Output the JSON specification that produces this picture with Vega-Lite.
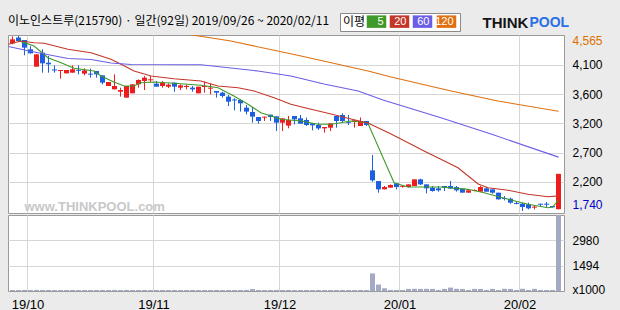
{
  "$schema": "https://vega.github.io/schema/vega-lite/v6.json",
  "background": "#ebebeb",
  "padding": {"left": 7, "top": 12, "right": 20, "bottom": 2},
  "title": {"text": "이노인스트루(215790) · 일간(92일) 2019/09/26 ~ 2020/02/11", "anchor": "start", "frame": "group", "font": "Noto Sans CJK KR", "fontSize": 12, "fontWeight": "normal", "color": "#000000", "offset": -16},
  "spacing": 0,
  "resolve": {"legend": {"color": "independent"}},
  "config": {
    "view": {"stroke": "#9a9a9a", "strokeWidth": 1, "fill": "#ffffff"},
    "axis": {"gridColor": "#d6d6d6", "gridWidth": 1, "labelFont": "Liberation Sans", "labelFontSize": 12, "labelColor": "#000000", "ticks": false, "domain": false}
  },
  "datasets": {
    "candles": [
      {"i":0,"o":4446,"h":4560,"l":4430,"c":4511,"v":60},
      {"i":1,"o":4540,"h":4565,"l":4468,"c":4484,"v":58},
      {"i":2,"o":4500,"h":4500,"l":4253,"c":4377,"v":65},
      {"i":3,"o":4350,"h":4400,"l":4285,"c":4285,"v":60},
      {"i":4,"o":4070,"h":4269,"l":4070,"c":4269,"v":66},
      {"i":5,"o":4296,"h":4350,"l":3973,"c":4124,"v":62},
      {"i":6,"o":4134,"h":4242,"l":3973,"c":4108,"v":60},
      {"i":7,"o":4025,"h":4091,"l":3973,"c":4008,"v":58},
      {"i":8,"o":4000,"h":4016,"l":3876,"c":4016,"v":60},
      {"i":9,"o":3962,"h":4016,"l":3962,"c":4016,"v":58},
      {"i":10,"o":3973,"h":4091,"l":3973,"c":4027,"v":60},
      {"i":11,"o":4020,"h":4091,"l":3946,"c":4003,"v":58},
      {"i":12,"o":3957,"h":4043,"l":3930,"c":4010,"v":60},
      {"i":13,"o":3957,"h":4038,"l":3892,"c":3941,"v":57},
      {"i":14,"o":4000,"h":4000,"l":3892,"c":3946,"v":58},
      {"i":15,"o":3930,"h":3930,"l":3785,"c":3812,"v":62},
      {"i":16,"o":3758,"h":3822,"l":3758,"c":3822,"v":60},
      {"i":17,"o":3704,"h":3946,"l":3704,"c":3758,"v":64},
      {"i":18,"o":3666,"h":3731,"l":3586,"c":3693,"v":60},
      {"i":19,"o":3570,"h":3758,"l":3570,"c":3758,"v":63},
      {"i":20,"o":3640,"h":3785,"l":3640,"c":3785,"v":60},
      {"i":21,"o":3785,"h":3866,"l":3731,"c":3855,"v":58},
      {"i":22,"o":3839,"h":3920,"l":3693,"c":3892,"v":60},
      {"i":23,"o":3850,"h":3920,"l":3812,"c":3866,"v":57},
      {"i":24,"o":3796,"h":3839,"l":3747,"c":3747,"v":58},
      {"i":25,"o":3758,"h":3839,"l":3731,"c":3812,"v":60},
      {"i":26,"o":3747,"h":3801,"l":3726,"c":3779,"v":57},
      {"i":27,"o":3812,"h":3812,"l":3666,"c":3747,"v":60},
      {"i":28,"o":3731,"h":3785,"l":3693,"c":3768,"v":58},
      {"i":29,"o":3742,"h":3785,"l":3704,"c":3758,"v":57},
      {"i":30,"o":3731,"h":3758,"l":3666,"c":3704,"v":58},
      {"i":31,"o":3640,"h":3747,"l":3640,"c":3747,"v":60},
      {"i":32,"o":3742,"h":3828,"l":3650,"c":3758,"v":58},
      {"i":33,"o":3715,"h":3801,"l":3623,"c":3731,"v":57},
      {"i":34,"o":3677,"h":3677,"l":3570,"c":3650,"v":58},
      {"i":35,"o":3650,"h":3666,"l":3570,"c":3596,"v":60},
      {"i":36,"o":3586,"h":3613,"l":3435,"c":3505,"v":62},
      {"i":37,"o":3540,"h":3559,"l":3365,"c":3524,"v":60},
      {"i":38,"o":3532,"h":3543,"l":3344,"c":3478,"v":58},
      {"i":39,"o":3408,"h":3451,"l":3300,"c":3344,"v":62},
      {"i":40,"o":3338,"h":3419,"l":3166,"c":3263,"v":115},
      {"i":41,"o":3257,"h":3257,"l":3150,"c":3193,"v":60},
      {"i":42,"o":3247,"h":3263,"l":3193,"c":3263,"v":57},
      {"i":43,"o":3295,"h":3295,"l":3193,"c":3257,"v":58},
      {"i":44,"o":3268,"h":3268,"l":3031,"c":3166,"v":62},
      {"i":45,"o":3166,"h":3236,"l":3031,"c":3236,"v":60},
      {"i":46,"o":3118,"h":3274,"l":3075,"c":3209,"v":58},
      {"i":47,"o":3274,"h":3274,"l":3139,"c":3220,"v":57},
      {"i":48,"o":3236,"h":3290,"l":3150,"c":3150,"v":58},
      {"i":49,"o":3209,"h":3247,"l":3112,"c":3128,"v":60},
      {"i":50,"o":3155,"h":3155,"l":3042,"c":3123,"v":57},
      {"i":51,"o":3128,"h":3166,"l":3048,"c":3074,"v":58},
      {"i":52,"o":3074,"h":3096,"l":3005,"c":3096,"v":60},
      {"i":53,"o":3085,"h":3155,"l":3031,"c":3155,"v":58},
      {"i":54,"o":3274,"h":3274,"l":3085,"c":3193,"v":60},
      {"i":55,"o":3290,"h":3317,"l":3166,"c":3193,"v":62},
      {"i":56,"o":3180,"h":3290,"l":3128,"c":3164,"v":58},
      {"i":57,"o":3177,"h":3204,"l":3085,"c":3204,"v":57},
      {"i":58,"o":3112,"h":3250,"l":3112,"c":3193,"v":60},
      {"i":59,"o":3193,"h":3193,"l":3112,"c":3128,"v":58},
      {"i":60,"o":2396,"h":2644,"l":2213,"c":2235,"v":1035},
      {"i":61,"o":2224,"h":2224,"l":2036,"c":2090,"v":380},
      {"i":62,"o":2090,"h":2144,"l":2090,"c":2127,"v":160},
      {"i":63,"o":2117,"h":2170,"l":2117,"c":2160,"v":62},
      {"i":64,"o":2187,"h":2187,"l":2090,"c":2127,"v":60},
      {"i":65,"o":2130,"h":2154,"l":2117,"c":2146,"v":58},
      {"i":66,"o":2127,"h":2170,"l":2117,"c":2170,"v":125},
      {"i":67,"o":2144,"h":2251,"l":2144,"c":2251,"v":130},
      {"i":68,"o":2251,"h":2262,"l":2160,"c":2170,"v":125},
      {"i":69,"o":2170,"h":2170,"l":2025,"c":2106,"v":128},
      {"i":70,"o":2117,"h":2144,"l":2052,"c":2063,"v":125},
      {"i":71,"o":2106,"h":2144,"l":2052,"c":2074,"v":60},
      {"i":72,"o":2144,"h":2144,"l":2063,"c":2117,"v":125},
      {"i":73,"o":2144,"h":2224,"l":2101,"c":2101,"v":200},
      {"i":74,"o":2127,"h":2144,"l":2052,"c":2074,"v":130},
      {"i":75,"o":2101,"h":2106,"l":2036,"c":2036,"v":120},
      {"i":76,"o":2036,"h":2074,"l":2036,"c":2074,"v":60},
      {"i":77,"o":2063,"h":2090,"l":2060,"c":2080,"v":125},
      {"i":78,"o":2052,"h":2144,"l":2052,"c":2127,"v":120},
      {"i":79,"o":2106,"h":2127,"l":2052,"c":2052,"v":60},
      {"i":80,"o":2090,"h":2090,"l":2020,"c":2036,"v":125},
      {"i":81,"o":2036,"h":2036,"l":1928,"c":1928,"v":60},
      {"i":82,"o":1950,"h":1982,"l":1912,"c":1934,"v":130},
      {"i":83,"o":1939,"h":1955,"l":1858,"c":1874,"v":120},
      {"i":84,"o":1870,"h":1901,"l":1848,"c":1854,"v":60},
      {"i":85,"o":1858,"h":1874,"l":1740,"c":1805,"v":130},
      {"i":86,"o":1848,"h":1874,"l":1767,"c":1783,"v":60},
      {"i":87,"o":1795,"h":1821,"l":1767,"c":1811,"v":125},
      {"i":88,"o":1858,"h":1858,"l":1805,"c":1842,"v":60},
      {"i":89,"o":1858,"h":1885,"l":1805,"c":1842,"v":60},
      {"i":90,"o":1821,"h":1821,"l":1790,"c":1800,"v":60},
      {"i":91,"o":1770,"h":2340,"l":1765,"c":2340,"v":4470}
    ],
    "ma": [
      {"ma":"5","i":1,"p":4490},{"ma":"5","i":3.6,"p":4404},{"ma":"5","i":5.9,"p":4215},{"ma":"5","i":8.1,"p":4134},
      {"ma":"5","i":10.25,"p":4044},{"ma":"5","i":13.6,"p":4000},{"ma":"5","i":14.75,"p":3919},{"ma":"5","i":16.9,"p":3822},
      {"ma":"5","i":18.6,"p":3758},{"ma":"5","i":20.25,"p":3758},{"ma":"5","i":21.4,"p":3811},{"ma":"5","i":23.6,"p":3822},
      {"ma":"5","i":26.9,"p":3801},{"ma":"5","i":31.4,"p":3769},{"ma":"5","i":34.25,"p":3730},{"ma":"5","i":36.9,"p":3596},
      {"ma":"5","i":39.25,"p":3462},{"ma":"5","i":41.4,"p":3327},{"ma":"5","i":43.1,"p":3274},{"ma":"5","i":44.75,"p":3220},
      {"ma":"5","i":48.1,"p":3193},{"ma":"5","i":50.9,"p":3140},{"ma":"5","i":53.1,"p":3140},{"ma":"5","i":54.75,"p":3165},
      {"ma":"5","i":56.4,"p":3193},{"ma":"5","i":59.2,"p":3165},{"ma":"5","i":63.6,"p":2197},{"ma":"5","i":65.9,"p":2127},
      {"ma":"5","i":71.4,"p":2127},{"ma":"5","i":75.9,"p":2090},{"ma":"5","i":78.6,"p":2035},{"ma":"5","i":82.6,"p":1929},
      {"ma":"5","i":85.9,"p":1848},{"ma":"5","i":89.25,"p":1793},{"ma":"5","i":90,"p":1805},{"ma":"5","i":91,"p":1915},
      {"ma":"20","i":-0.7,"p":4431},{"ma":"20","i":1.4,"p":4484},{"ma":"20","i":3.6,"p":4457},{"ma":"20","i":5.25,"p":4447},
      {"ma":"20","i":9.25,"p":4350},{"ma":"20","i":13.1,"p":4295},{"ma":"20","i":16.4,"p":4189},{"ma":"20","i":18.1,"p":4108},
      {"ma":"20","i":20.25,"p":4000},{"ma":"20","i":23.1,"p":3919},{"ma":"20","i":26.9,"p":3876},{"ma":"20","i":31.4,"p":3839},
      {"ma":"20","i":34.25,"p":3758},{"ma":"20","i":37.6,"p":3730},{"ma":"20","i":40.25,"p":3677},{"ma":"20","i":43.6,"p":3569},
      {"ma":"20","i":46.4,"p":3462},{"ma":"20","i":49.75,"p":3382},{"ma":"20","i":53.1,"p":3306},{"ma":"20","i":56.4,"p":3225},
      {"ma":"20","i":59.25,"p":3161},{"ma":"20","i":63.1,"p":2983},{"ma":"20","i":68.6,"p":2709},{"ma":"20","i":74.25,"p":2439},
      {"ma":"20","i":77.6,"p":2176},{"ma":"20","i":79.25,"p":2116},{"ma":"20","i":82.6,"p":2074},{"ma":"20","i":85.9,"p":2010},
      {"ma":"20","i":89.25,"p":1971},{"ma":"20","i":91,"p":1985},
      {"ma":"60","i":-0.7,"p":4395},{"ma":"60","i":3.6,"p":4307},{"ma":"60","i":9.25,"p":4202},{"ma":"60","i":13.1,"p":4186},
      {"ma":"60","i":16.4,"p":4129},{"ma":"60","i":19.75,"p":4105},{"ma":"60","i":31.4,"p":4100},{"ma":"60","i":40.9,"p":4000},
      {"ma":"60","i":46.4,"p":3919},{"ma":"60","i":51.9,"p":3790},{"ma":"60","i":57.6,"p":3677},{"ma":"60","i":61.75,"p":3532},
      {"ma":"60","i":71.4,"p":3246},{"ma":"60","i":79.75,"p":2983},{"ma":"60","i":91,"p":2610},
      {"ma":"120","i":27,"p":4640},{"ma":"120","i":29.4,"p":4589},{"ma":"120","i":36.4,"p":4484},{"ma":"120","i":48.1,"p":4242},
      {"ma":"120","i":59.25,"p":4000},{"ma":"120","i":63.1,"p":3903},{"ma":"120","i":73.1,"p":3677},{"ma":"120","i":80.9,"p":3516},
      {"ma":"120","i":91,"p":3350}
    ]
  },
  "vconcat": [
    {
      "width": 556,
      "height": 178,
      "layer": [
        {
          "data": {"name": "candles"},
          "mark": {"type": "rule", "strokeWidth": 1},
          "encoding": {
            "x": {"field": "i", "type": "quantitative", "scale": {"domain": [-0.75, 91.9167], "nice": false, "zero": false, "padding": 0},
              "axis": {"orient": "bottom", "values": [2.5, 23.5, 44.5, 64.5, 84.5], "labels": false, "ticks": false, "domain": false, "grid": true,
                "title": "www.THINKPOOL.com", "titleX": 16, "titleY": -7, "titleAlign": "left", "titleBaseline": "middle", "titleColor": "#c8c8c8", "titleFont": "Liberation Sans", "titleFontSize": 13, "titleFontWeight": "bold"}},
            "y": {"field": "l", "type": "quantitative", "scale": {"domain": [1708, 4581], "nice": false, "zero": false},
              "axis": {"orient": "right", "values": [1740, 2211, 2683, 3154, 3626, 4097, 4565],
                "labelExpr": "datum.value == 4565 ? '4,565' : datum.value == 4097 ? '4,100' : datum.value == 3626 ? '3,600' : datum.value == 3154 ? '3,200' : datum.value == 2683 ? '2,700' : datum.value == 2211 ? '2,200' : '1,740'",
                "grid": true, "gridOpacity": {"condition": {"test": "datum.value == 4565 || datum.value == 1740", "value": 0}, "value": 1},
                "ticks": false, "domain": false, "title": null, "labelPadding": 8, "labelAlign": "left", "labelFlush": 3, "labelOverlap": false, "labelBound": false,
                "labelColor": {"condition": [{"test": "datum.value == 4565", "value": "#e07000"}, {"test": "datum.value == 1740", "value": "#0000c8"}], "value": "#000000"}}},
            "y2": {"field": "h"},
            "color": {"condition": {"test": "datum.c >= datum.o", "value": "#ee1d1d"}, "value": "#1d5fe2"}
          }
        },
        {
          "data": {"name": "candles"},
          "mark": {"type": "bar", "width": 5},
          "encoding": {
            "x": {"field": "i", "type": "quantitative", "scale": {"domain": [-0.75, 91.9167], "nice": false, "zero": false, "padding": 0},
              "axis": {"orient": "top", "labels": false, "ticks": false, "domain": false, "grid": false,
                "title": "THINK", "titleX": 474, "titleY": -13, "titleAlign": "left", "titleBaseline": "middle", "titleFont": "Liberation Sans", "titleFontSize": 15, "titleFontWeight": "bold", "titleColor": "#151515"}},
            "y": {"field": "o", "type": "quantitative",
              "axis": {"orient": "left", "labels": false, "ticks": false, "domain": false, "grid": false,
                "title": "POOL", "titleAngle": 0, "titleX": 521, "titleY": -13, "titleAlign": "left", "titleBaseline": "middle", "titleFont": "Liberation Sans", "titleFontSize": 14, "titleFontWeight": "bold", "titleColor": "#2a6fe8"}},
            "y2": {"field": "c"},
            "color": {"condition": {"test": "datum.c >= datum.o", "value": "#ee1d1d"}, "value": "#1d5fe2"}
          }
        },
        {
          "data": {"name": "ma"},
          "mark": {"type": "line", "strokeWidth": 1.1, "clip": true},
          "encoding": {
            "x": {"field": "i", "type": "quantitative", "axis": null},
            "y": {"field": "p", "type": "quantitative", "axis": null},
            "color": {"field": "ma", "type": "nominal",
              "scale": {"domain": ["5", "20", "60", "120"], "range": ["#3f9a2a", "#c4362a", "#6a5ee6", "#e07010"]},
              "legend": {"orient": "none", "legendX": 332, "legendY": -22, "direction": "horizontal",
                "title": "이평", "titleOrient": "left", "titleFont": "Noto Sans CJK KR", "titleFontSize": 12, "titleFontWeight": "normal", "titleColor": "#000000", "titlePadding": 5,
                "symbolType": "M-1.95,-1.25H1.95V1.25H-1.95Z", "symbolSize": 100, "symbolStrokeWidth": 0,
                "labelFont": "Liberation Sans", "labelFontSize": 11, "labelColor": "#ffffff", "labelAlign": "right", "labelOffset": 1.5,
                "columnPadding": 2, "padding": 3, "strokeColor": "#8a8a8a", "fillColor": "#ffffff",
                "encode": {"symbols": {"update": {"fill": {"scale": "color", "field": "value"}, "stroke": {"value": "transparent"}}}}}
            }
          }
        }
      ]
    },
    {
      "width": 556,
      "height": 76,
      "data": {"name": "candles"},
      "mark": {"type": "bar", "width": 5, "color": "#a3aac3"},
      "encoding": {
        "x": {"field": "i", "type": "quantitative", "scale": {"domain": [-0.75, 91.9167], "nice": false, "zero": false, "padding": 0},
          "axis": {"orient": "bottom", "values": [2.5, 23.5, 44.5, 64.5, 84.5],
            "labelExpr": "datum.value < 10 ? '19/10' : datum.value < 30 ? '19/11' : datum.value < 50 ? '19/12' : datum.value < 70 ? '20/01' : '20/02'",
            "grid": true, "ticks": false, "domain": false, "title": null, "labelPadding": 7, "labelFontSize": 13, "labelFlush": false, "labelOverlap": false}},
        "y": {"field": "v", "type": "quantitative", "scale": {"domain": [0, 4475], "nice": false},
          "axis": {"orient": "right", "values": [0, 1494, 2980],
            "labelExpr": "datum.value == 0 ? 'x1000' : '' + datum.value",
            "grid": true, "gridOpacity": {"condition": {"test": "datum.value == 0", "value": 0}, "value": 1},
            "labelOffset": {"condition": {"test": "datum.value == 0", "value": -2}, "value": 0},
            "ticks": false, "domain": false, "title": null, "labelPadding": 8, "labelAlign": "left", "labelFlush": false, "labelOverlap": false}}
      }
    }
  ]
}
